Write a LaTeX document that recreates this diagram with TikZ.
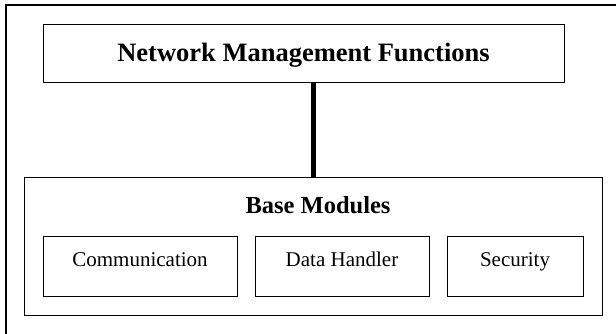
\documentclass[tikz,border=0pt]{standalone}
\usepackage{fontspec}
\setmainfont{Liberation Serif}
\usepackage{tikz}
\tikzset{box/.style={draw, line width=1pt, inner sep=0pt},
  head/.style={font=\fontsize{26.5}{30}\selectfont\bfseries},
  modbox/.style={box, minimum height=60pt, text height=15pt, text depth=13.6pt,
    font=\fontsize{21}{25}\selectfont}}

\begin{document}
\begin{tikzpicture}[x=1pt, y=-1pt]
\useasboundingbox (0,0) rectangle (616,333);
\draw[line width=1.1pt] (6,340) -- (6,5) -- (620,5);

\node[box, head, minimum width=521pt, minimum height=58pt, text height=17.4pt, text depth=0pt] (nmf) at (303.5,53) {Network Management Functions};
\node[box, minimum width=578pt, minimum height=138pt] (base) at (313,246) {};
\node[head, font=\fontsize{24.5}{28}\selectfont\bfseries, anchor=base] (bmtitle) at (318,213.3) {Base Modules};
\node[modbox, minimum width=194pt] (comm) at (140,266) {Communication};
\node[modbox, minimum width=174pt] (data) at (342,266) {Data Handler};
\node[modbox, minimum width=136pt] (sec) at (515,266) {Security};

\draw[line width=5pt] (base.north) -- (base.north |- nmf.south);
\end{tikzpicture}
\end{document}
